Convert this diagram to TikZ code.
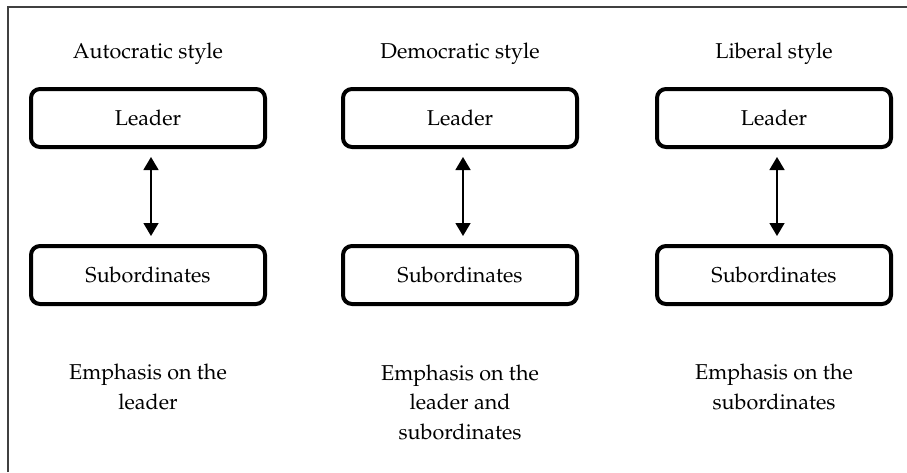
\documentclass[tikz,border=0pt]{standalone}
\usepackage[T1]{fontenc}
\usepackage{palatino}
\usepackage{tikz}
\usetikzlibrary{arrows.meta,shapes}
\usetikzlibrary{positioning}
\tikzstyle{block} = [draw, rectangle, rounded corners=9pt, line width=4pt,
    minimum width=234pt, minimum height=58pt]
\tikzstyle{heading} = [align=center, inner sep=0pt]
\tikzstyle{link} = [{Triangle[width=15pt,length=13pt]}-{Triangle[width=15pt,length=13pt]},
    line width=1.5pt, shorten <=8pt, shorten >=8pt]

\begin{document}
\begin{tikzpicture}[x=1pt, y=1pt, node distance = 312pt, auto,
    font=\fontsize{21.5pt}{29.5pt}\selectfont]
  \useasboundingbox (0,0) rectangle (907,-472);
  \draw [line width=1.3pt, black!75] (8,-472) -- (8,-7) -- (907,-7);
  % leaders
  \node [block] (l1) at (148,-118) {Leader};
  \node [block, right of=l1] (l2) {Leader};
  \node [block, right of=l2, node distance = 314pt] (l3) {Leader};
  % subordinates
  \node [block, below of=l1, node distance = 157pt] (s1) {Subordinates};
  \node [block, below of=l2, node distance = 157pt] (s2) {Subordinates};
  \node [block, below of=l3, node distance = 157pt] (s3) {Subordinates};
  % style names
  \node [heading, above of=l1, node distance = 64pt] (h1) {Autocratic style};
  \node [heading, above of=l2, node distance = 64pt] (h2) {Democratic style};
  \node [heading, above of=l3, node distance = 64pt] (h3) {Liberal style};
  % emphasis
  \node [heading, below of=s1, node distance = 112pt] (e1) {Emphasis on the\\leader};
  \node [heading, below of=s2, node distance = 127pt] (e2) {Emphasis on the\\leader and\\subordinates};
  \node [heading, below of=s3, node distance = 112pt] (e3) {Emphasis on the\\subordinates};
  \draw [link] ([xshift=3pt]l1.south) -- ([xshift=3pt]s1.north);
  \draw [link] ([xshift=3pt]l2.south) -- ([xshift=3pt]s2.north);
  \draw [link] ([xshift=3pt]l3.south) -- ([xshift=3pt]s3.north);
\end{tikzpicture}
\end{document}
